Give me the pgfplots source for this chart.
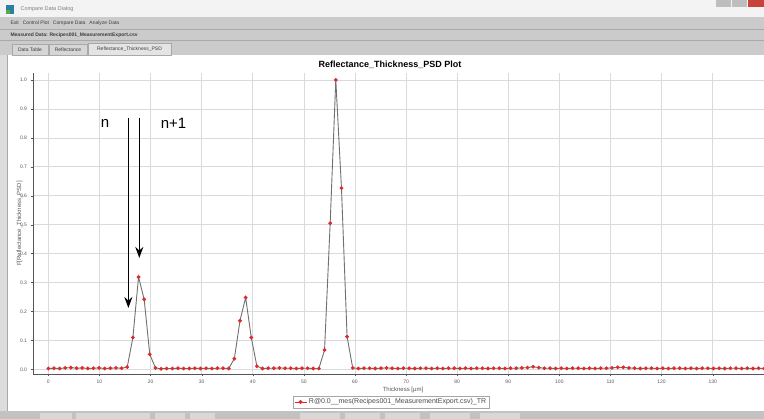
\documentclass[border=0pt]{standalone}
\usepackage{fontspec}
\setmainfont{Liberation Sans}
\usepackage{pgfplots}
\usepackage{pgfplotstable}
\pgfplotsset{compat=1.18}
\usetikzlibrary{arrows.meta}

\definecolor{chrome}{HTML}{CBCBCB}
\definecolor{chromedark}{HTML}{A9A9A9}
\definecolor{chrometext}{HTML}{3C3C3C}
\definecolor{titlebar}{HTML}{F3F3F3}
\definecolor{iconblue}{HTML}{2B7FA3}
\definecolor{icongreen}{HTML}{5BAA4A}
\definecolor{btngray}{HTML}{BEBEBE}
\definecolor{btnred}{HTML}{C8413A}
\definecolor{tabgray}{HTML}{D6D6D6}
\definecolor{tabsel}{HTML}{E4E4E4}
\definecolor{sidegray}{HTML}{DCDCDC}
\definecolor{bottomgray}{HTML}{C2C2C2}
\definecolor{taskgray}{HTML}{D8D8D8}
\definecolor{axisgray}{HTML}{555555}
\definecolor{markred}{HTML}{E02A2A}
\definecolor{linegray}{HTML}{707070}
\definecolor{gridgray}{HTML}{DADADA}

% thickness [um] vs PSD, one point every 1.103 um
\pgfplotstableread{
x y
0.00 0.003
1.10 0.004
2.21 0.003
3.31 0.005
4.41 0.006
5.52 0.004
6.62 0.005
7.72 0.003
8.82 0.004
9.93 0.005
11.03 0.003
12.13 0.004
13.24 0.005
14.34 0.004
15.44 0.008
16.55 0.110
17.65 0.319
18.75 0.242
19.85 0.052
20.96 0.005
22.06 0.002
23.16 0.003
24.27 0.003
25.37 0.004
26.47 0.003
27.58 0.003
28.68 0.004
29.78 0.003
30.88 0.004
31.99 0.003
33.09 0.004
34.19 0.004
35.30 0.003
36.40 0.037
37.50 0.168
38.61 0.248
39.71 0.110
40.81 0.011
41.91 0.003
43.02 0.004
44.12 0.004
45.22 0.005
46.33 0.004
47.43 0.004
48.53 0.003
49.64 0.004
50.74 0.004
51.84 0.003
52.94 0.003
54.05 0.067
55.15 0.505
56.25 1.000
57.36 0.626
58.46 0.113
59.56 0.005
60.67 0.003
61.77 0.004
62.87 0.004
63.97 0.003
65.08 0.004
66.18 0.005
67.28 0.004
68.39 0.003
69.49 0.004
70.59 0.004
71.70 0.003
72.80 0.004
73.90 0.004
75.00 0.003
76.11 0.004
77.21 0.003
78.31 0.004
79.42 0.004
80.52 0.003
81.62 0.004
82.73 0.003
83.83 0.004
84.93 0.004
86.03 0.003
87.14 0.004
88.24 0.004
89.34 0.003
90.45 0.004
91.55 0.004
92.65 0.005
93.76 0.006
94.86 0.009
95.96 0.006
97.06 0.004
98.17 0.004
99.27 0.003
100.37 0.004
101.48 0.003
102.58 0.004
103.68 0.004
104.79 0.003
105.89 0.004
106.99 0.003
108.09 0.004
109.20 0.004
110.30 0.005
111.40 0.007
112.51 0.007
113.61 0.005
114.71 0.004
115.82 0.003
116.92 0.004
118.02 0.004
119.12 0.003
120.23 0.004
121.33 0.003
122.43 0.004
123.54 0.004
124.64 0.003
125.74 0.004
126.85 0.003
127.95 0.004
129.05 0.004
130.15 0.003
131.26 0.004
132.36 0.003
133.46 0.004
134.57 0.004
135.67 0.003
136.77 0.004
137.88 0.003
138.98 0.004
140.08 0.003
141.18 0.004
}\psd

\begin{document}
\begin{tikzpicture}[x=1pt,y=1pt]
\useasboundingbox (0,0) rectangle (764,419);

% ---- window chrome (y measured from the bottom, 419 = top edge) ----
\fill[white] (0,0) rectangle (764,419);
\fill[titlebar] (0,402) rectangle (764,419);
\fill[iconblue] (6,405) rectangle (14,414);
\fill[icongreen] (6,405) rectangle (10,409);
\node[anchor=west,font=\fontsize{5.5}{6}\selectfont,text=gray] at (17,410) {Compare Data Dialog};
\fill[btngray] (716,412) rectangle (731,419);
\fill[btngray] (732,412) rectangle (747,419);
\fill[btnred] (748,412) rectangle (764,419);

\fill[chrome] (0,364) rectangle (764,402);
\draw[chromedark] (0,389.5) -- (764,389.5);
\draw[chromedark] (0,378.5) -- (764,378.5);
\node[anchor=west,font=\fontsize{5}{6}\selectfont,text=chrometext]
  at (7,395.5) {Exit\hspace{4pt}Control Plot\hspace{4pt}Compare Data\hspace{4pt}Analyze Data};
\node[anchor=west,font=\bfseries\fontsize{5}{6}\selectfont,text=chrometext]
  at (7,383.5) {Measured Data: Recipes001\_MeasurementExport.csv};
\draw[chromedark,fill=tabgray] (12,364) rectangle (48,375);
\draw[chromedark,fill=tabgray] (49,364) rectangle (87,375);
\draw[chromedark,fill=tabsel] (88,364) rectangle (171,376);
\node[font=\fontsize{5}{6}\selectfont,text=chrometext] at (30,369.5) {Data Table};
\node[font=\fontsize{5}{6}\selectfont,text=chrometext] at (68,369.5) {Reflectance};
\node[font=\fontsize{5}{6}\selectfont,text=chrometext] at (129.5,370) {Reflectance\_Thickness\_PSD};

\fill[sidegray] (0,0) rectangle (7,364);
\draw[chromedark] (7,8) -- (7,364);
\fill[bottomgray] (0,0) rectangle (764,8);
\foreach \a/\b in {40/72,76/150,155/185,190/215,300/340,345/380,385/420,430/470,480/520}
  \fill[taskgray] (\a,0) rectangle (\b,6);

\node[font=\bfseries\fontsize{9}{10}\selectfont] at (390,354) {Reflectance\_Thickness\_PSD Plot};

% ---- chart ----
\begin{axis}[
  at={(33pt,45pt)}, anchor=south west,
  scale only axis,
  width=740pt, height=301pt,
  xmin=-3, xmax=141.8,
  ymin=-0.016, ymax=1.024,
  axis x line*=bottom, axis y line*=left,
  axis line style={axisgray, line width=0.7pt},
  tick align=outside,
  major tick length=2.5pt,
  tick style={axisgray},
  xtick={0,10,...,130},
  ytick={0,0.1,...,1.0},
  yticklabel style={/pgf/number format/.cd,fixed,fixed zerofill,precision=1},
  tick label style={font=\fontsize{5}{6}\selectfont, text=gray!70!black},
  /pgf/number format/assume math mode=true,
  xmajorgrids, ymajorgrids,
  major grid style={gridgray, line width=0.6pt},
  xlabel={Thickness [µm]},
  ylabel={F[Reflectance\_Thickness\_PSD]},
  label style={font=\fontsize{6}{7}\selectfont, text=gray!70!black},
  xlabel style={inner sep=1pt, yshift=1pt},
  ylabel style={at={(axis description cs:0,0.5)}, anchor=center, yshift=13.5pt},
  legend style={at={(axis description cs:0.484,-0.093)}, anchor=center,
    draw=gray!70, font=\fontsize{7}{8}\selectfont, inner sep=1pt,
    text=gray!60!black},
]
\addplot[color=linegray, line width=0.9pt, mark=*, mark size=1.4pt,
  mark options={draw=markred, fill=markred},
  legend image code/.code={
    \draw[markred, line width=0.8pt] (0pt,0pt) -- (12pt,0pt);
    \fill[markred] (6pt,0pt) circle (1.5pt);}]
  table[x=x, y=y] {\psd};
\addlegendentry{R@0.0\_\_mes(Recipes001\_MeasurementExport.csv)\_TR}

% annotation arrows
\draw[line width=1.3pt, -{Stealth[length=11pt,width=8pt]}]
  (axis cs:15.66,0.869) -- (axis cs:15.66,0.212);
\draw[line width=1.3pt, -{Stealth[length=11pt,width=8pt]}]
  (axis cs:17.8,0.869) -- (axis cs:17.8,0.385);
\node[font=\fontsize{15}{16}\selectfont] at (axis cs:11.1,0.851) {n};
\node[font=\fontsize{15}{16}\selectfont] at (axis cs:24.5,0.851) {n+1};
\end{axis}
\end{tikzpicture}
\end{document}
